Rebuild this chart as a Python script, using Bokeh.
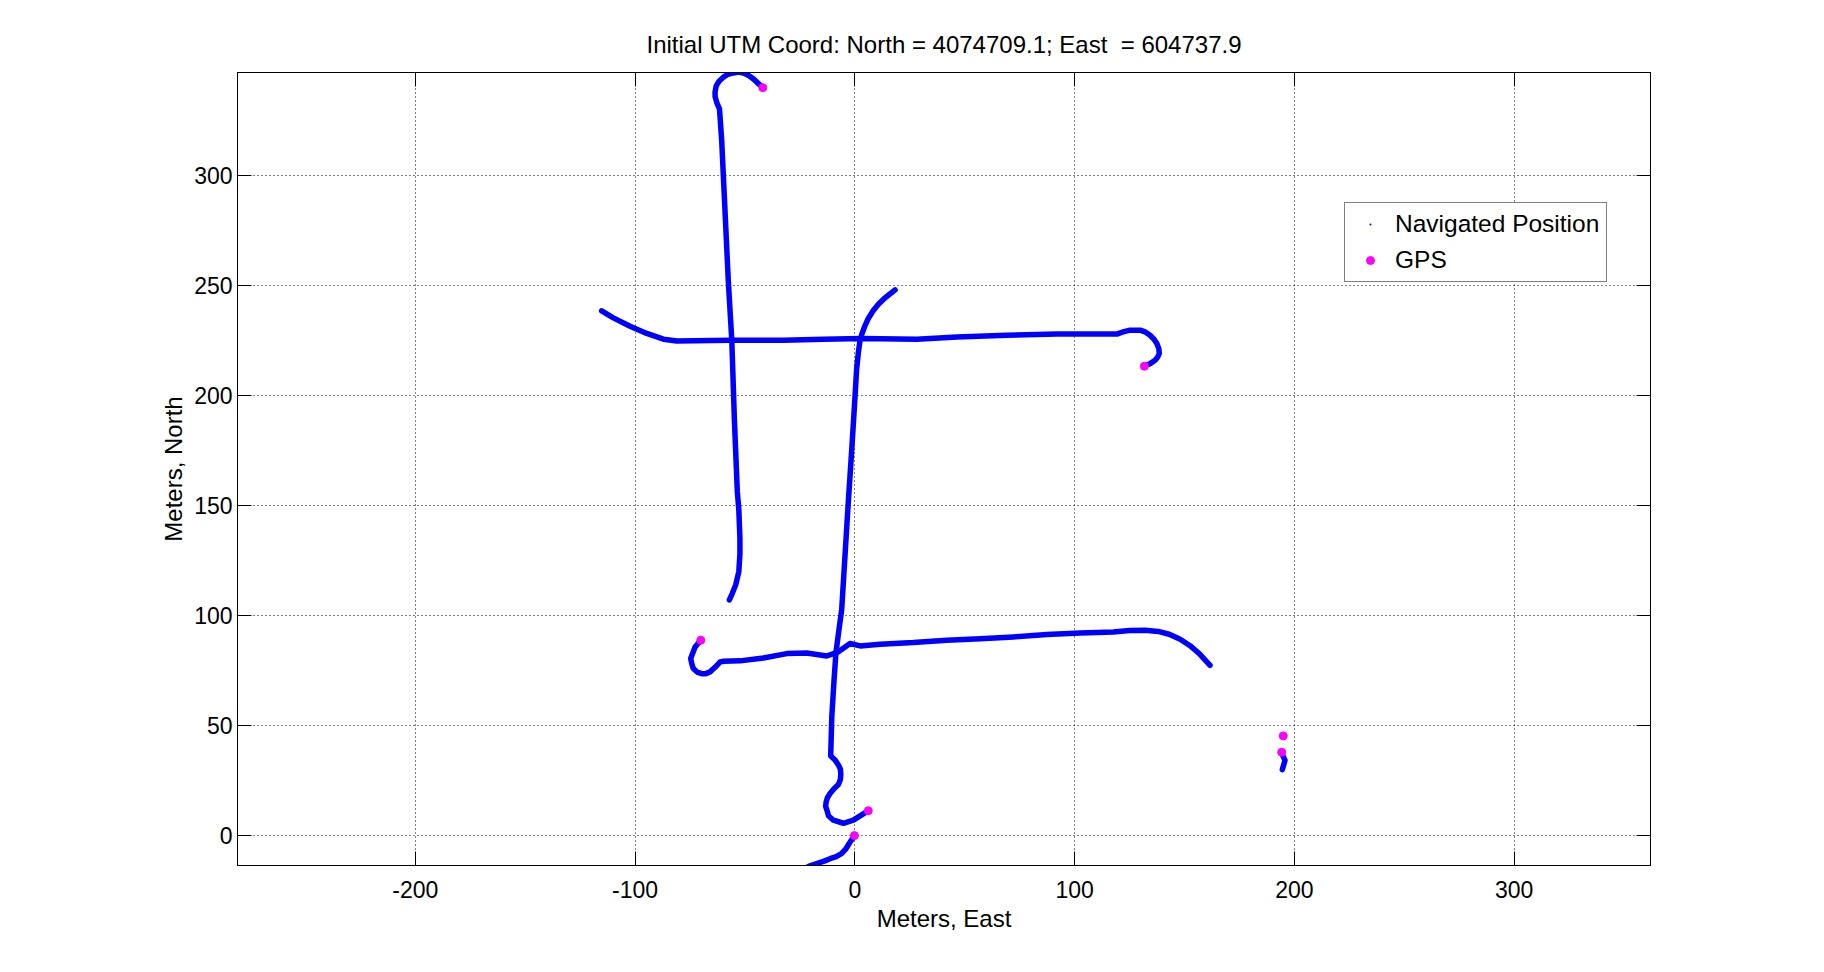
from bokeh.plotting import figure
from bokeh.models import Range1d, LinearAxis, FixedTicker, Legend, LegendItem
from bokeh.embed import file_html
from bokeh.resources import INLINE

# ---------------- data (meters relative to initial UTM coordinate) ----------------
# Segment near start: from GPS fix at origin going south-west
seg_start_x = [-0.2, -1.4, -2.6, -4.2, -6.1, -8.5, -11.3, -14.0, -20.1, -22.0]
seg_start_y = [0.0, -1.8, -3.6, -6.2, -8.2, -9.6, -10.5, -11.6, -13.6, -14.5]

# Vertical track near East = 0, starting at GPS fix (6.1, 11.3)
seg_v_x = [6.1, 3.1, -0.7, -5.2, -9.8, -12.0, -12.8, -13.3, -13.1, -12.5, -11.3, -9.5,
           -7.5, -6.6, -6.4, -6.6, -7.5, -9.0, -11.0, -10.5, -9.5, -8.6, -7.1, -6.0,
           -4.5, -3.0, -1.4, 0.1, 0.8, 1.6, 2.2, 3.1, 4.5, 6.1, 8.3, 10.7, 13.5, 18.3]
seg_v_y = [11.3, 9.4, 7.0, 5.6, 7.0, 9.0, 11.8, 13.3, 15.1, 17.2, 19.1, 21.3,
           23.2, 25.5, 28.0, 30.3, 32.1, 34.3, 36.2, 54.0, 70.3, 83.3, 94.6, 102.7,
           127.1, 151.5, 175.8, 200.1, 212.0, 219.6, 224.0, 227.7, 231.5, 235.0, 238.5, 241.5, 244.2, 248.0]

# Upper east-west track ending in a hook at GPS fix (131.7, 213.3)
seg_u_x = [-115.2, -109.9, -102.3, -94.7, -87.1, -81.0, -56.8, -32.5, -14.3, 3.1, 28.2,
           46.4, 69.1, 91.9, 116.1, 119.2, 122.0, 125.2, 129.8, 132.3, 134.3, 136.0,
           137.4, 138.3, 138.5, 137.8, 136.6, 134.5, 131.7]
seg_u_y = [238.5, 235.3, 231.5, 228.2, 225.6, 224.8, 225.1, 225.1, 225.6, 225.9, 225.6,
           226.6, 227.4, 227.9, 227.9, 227.9, 228.9, 229.7, 229.7, 228.8, 227.4, 225.7,
           223.6, 221.3, 219.1, 217.5, 216.0, 214.6, 213.3]

# Lower east-west track starting at GPS fix (-70.1, 88.8)
seg_l_x = [-70.1, -72.7, -74.7, -74.2, -73.5, -71.8, -69.7, -67.8, -65.9, -63.5, -61.3,
           -60.0, -52.2, -41.6, -31.0, -21.9, -12.8, -7.5, -2.2, 2.4, 11.5, 26.6, 41.8,
           57.0, 72.1, 87.3, 102.5, 117.6, 125.0, 132.0, 138.0, 143.0, 148.0, 152.5,
           157.0, 161.6]
seg_l_y = [88.8, 85.7, 80.5, 78.0, 75.9, 74.3, 73.6, 73.6, 74.4, 76.6, 78.9,
           79.2, 79.4, 80.7, 82.7, 83.0, 81.6, 83.5, 87.3, 86.2, 87.0, 87.7, 88.8,
           89.5, 90.3, 91.4, 92.1, 92.5, 93.2, 93.3, 92.8, 91.5, 89.2, 86.3,
           82.4, 77.4]

# Western north-south track starting at GPS fix (-41.9, 339.9)
seg_w_x = [-41.9, -46.2, -48.5, -50.7, -53.0, -55.3, -57.8, -59.8, -61.8, -63.1, -63.6,
           -63.6, -62.8, -61.6, -60.6, -59.1, -57.6, -56.0, -54.8, -53.5, -52.8, -52.3,
           -52.3, -52.8, -54.2, -55.8, -57.1]
seg_w_y = [339.9, 343.9, 345.5, 346.6, 347.0, 346.6, 346.0, 344.7, 342.8, 340.7, 338.0,
           335.9, 333.0, 330.3, 316.0, 284.1, 252.2, 225.1, 188.5, 156.5, 148.0, 135.0,
           128.0, 120.0, 114.0, 110.0, 107.1]

# Short track in the east
seg_e_x = [194.2, 195.7, 194.5]
seg_e_y = [37.5, 34.2, 30.0]

# GPS fixes
gps_x = [-41.9, 131.7, -70.1, 6.1, -0.2, 194.9, 194.2]
gps_y = [339.9, 213.3, 88.8, 11.3, 0.0, 45.3, 37.9]

x_ticks = [-200, -100, 0, 100, 200, 300]
y_ticks = [0, 50, 100, 150, 200, 250, 300]

title_text = "Initial UTM Coord: North = 4074709.1; East \u00a0= 604737.9"
x_label = "Meters, East"
y_label = "Meters, North"

FONT = "Liberation Sans"

# ---------------- figure ----------------
p = figure(frame_width=1413, frame_height=793,
           min_border_left=237, min_border_right=140,
           min_border_top=72, min_border_bottom=88,
           x_range=Range1d(-280.9, 362.0), y_range=Range1d(-13.6, 346.8),
           output_backend="svg", toolbar_location=None, tools="",
           background_fill_color="white", border_fill_color="white")

p.title.text = title_text
p.title.text_font = FONT
p.title.text_font_size = "24px"
p.title.text_font_style = "normal"
p.title.text_color = "black"
p.title.align = "center"
p.title.standoff = 30

p.outline_line_color = "black"
p.outline_line_width = 1

def style_axis(ax, show_labels):
    ax.axis_line_color = "black"
    ax.major_tick_line_color = "black"
    ax.major_tick_in = 14
    ax.major_tick_out = 0
    ax.minor_tick_line_color = None
    ax.major_label_text_font = FONT
    ax.major_label_text_font_size = "23px"
    ax.major_label_text_color = "black" if show_labels else None
    ax.axis_label_text_font = FONT
    ax.axis_label_text_font_size = "24px"
    ax.axis_label_text_font_style = "normal"
    ax.axis_label_text_color = "black"

xa = p.xaxis[0]
ya = p.yaxis[0]
xa.ticker = FixedTicker(ticks=x_ticks)
ya.ticker = FixedTicker(ticks=y_ticks)
style_axis(xa, True)
style_axis(ya, True)
xa.major_label_overrides = {t: str(t) for t in x_ticks}
ya.major_label_overrides = {t: str(t) for t in y_ticks}
xa.axis_label = x_label
ya.axis_label = y_label
xa.major_label_standoff = 15
xa.axis_label_standoff = 4
ya.major_label_standoff = 5
ya.axis_label_standoff = 4

top_ax = LinearAxis(ticker=FixedTicker(ticks=x_ticks))
right_ax = LinearAxis(ticker=FixedTicker(ticks=y_ticks))
style_axis(top_ax, False)
style_axis(right_ax, False)
top_ax.major_label_text_font_size = "0px"
right_ax.major_label_text_font_size = "0px"
top_ax.major_label_standoff = 0
right_ax.major_label_standoff = 0
p.add_layout(top_ax, "above")
p.add_layout(right_ax, "right")

for g in (p.xgrid[0], p.ygrid[0]):
    g.grid_line_color = "black"
    g.grid_line_dash = "1 3"
    g.grid_line_width = 1
p.xgrid[0].ticker = FixedTicker(ticks=x_ticks)
p.ygrid[0].ticker = FixedTicker(ticks=y_ticks)

# ---------------- glyphs ----------------
segments = [(seg_start_x, seg_start_y), (seg_v_x, seg_v_y), (seg_u_x, seg_u_y),
            (seg_l_x, seg_l_y), (seg_w_x, seg_w_y), (seg_e_x, seg_e_y)]
BLUE = "#0000ff"
MAGENTA = "#ff00ff"

p.multi_line(xs=[s[0] for s in segments], ys=[s[1] for s in segments],
             line_color=BLUE, line_width=5.5, line_cap="round", line_join="round")

all_x = sum([s[0] for s in segments], [])
all_y = sum([s[1] for s in segments], [])
nav = p.scatter(all_x, all_y, marker="dot", size=12, color=BLUE, line_width=3)

gps = p.scatter(gps_x, gps_y, marker="circle", size=8, color=MAGENTA)

legend = Legend(items=[LegendItem(label="Navigated Position", renderers=[nav]),
                       LegendItem(label="GPS", renderers=[gps])],
                location=(1107, 583))
legend.label_text_font = FONT
legend.label_text_font_size = "24.5px"
legend.label_text_color = "black"
legend.label_text_baseline = "top"
legend.border_line_color = "black"
legend.border_line_width = 1
legend.background_fill_color = "white"
legend.background_fill_alpha = 1
legend.padding = 3
legend.spacing = 0
legend.glyph_width = 44
legend.glyph_height = 20
legend.label_height = 36
legend.label_width = 208
legend.label_standoff = 3
legend.margin = 0
p.add_layout(legend, "center")

open("out.html", "w").write(file_html(p, INLINE))
